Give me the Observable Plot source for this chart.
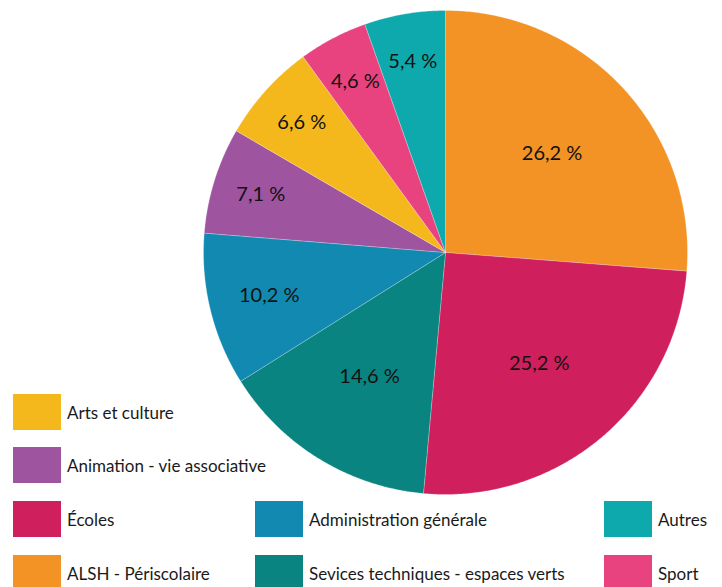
<!DOCTYPE html>
<html>
<head>
<meta charset="utf-8">
<script src="https://cdn.jsdelivr.net/npm/d3@7"></script>
<script src="https://cdn.jsdelivr.net/npm/@observablehq/plot@0.6"></script>
<style>
  html, body { margin: 0; padding: 0; background: #fff; }
  #wrap { position: relative; width: 722px; height: 587px; overflow: hidden; font-family: Lato, "Open Sans", sans-serif; }
  #wrap svg { position: absolute; left: 0; top: 0; }
  .lg { position: absolute; display: flex; align-items: center; font-size: 17px; color: #1a1a1a; white-space: nowrap; }
  .lg .sw { width: 48px; height: 36px; margin-right: 6px; flex: none; }
</style>
</head>
<body>
<div id="wrap"></div>
<script>
// Data (clockwise from 12 o'clock)
const categories = ["ALSH - Périscolaire", "Écoles", "Sevices techniques - espaces verts", "Administration générale", "Animation - vie associative", "Arts et culture", "Sport", "Autres"];
const values = [26.2, 25.2, 14.6, 10.2, 7.1, 6.6, 4.6, 5.4];
const colors = ["#F39325", "#D01F5D", "#0A8481", "#1189B0", "#9E549F", "#F5B81C", "#E8437E", "#0EA9AC"];

// Legend order (columns)
const legendCols = [
  ["Arts et culture", "Animation - vie associative", "Écoles", "ALSH - Périscolaire"],
  ["Administration générale", "Sevices techniques - espaces verts"],
  ["Autres", "Sport"]
];

const total = d3.sum(values);
const slices = [];
const labels = [];
let acc = 0;
values.forEach((v, i) => {
  const a0 = acc / total * 2 * Math.PI;
  acc += v;
  const a1 = acc / total * 2 * Math.PI;
  const pts = [{name: categories[i], x: 0, y: 0}];
  const n = Math.max(2, Math.ceil((a1 - a0) / (Math.PI / 360)));
  for (let k = 0; k <= n; k++) {
    const a = a0 + (a1 - a0) * k / n;
    pts.push({name: categories[i], x: Math.sin(a), y: Math.cos(a)});
  }
  pts.push({name: categories[i], x: 0, y: 0});
  slices.push(...pts);
  const am = (a0 + a1) / 2;
  const share = v / total;
  const lr = share > 0.14 ? 0.6 : (share > 0.09 ? 0.75 : 0.8);
  labels.push({x: lr * Math.sin(am), y: lr * Math.cos(am), text: v.toFixed(1).replace(".", ",") + " %"});
});

const chart = Plot.plot({
  width: 722,
  height: 587,
  margin: 0,
  style: {fontFamily: "Lato, 'Open Sans', sans-serif", background: "transparent"},
  x: {domain: [-1, 1], range: [203, 687], axis: null},
  y: {domain: [-1, 1], range: [494, 10], axis: null},
  color: {domain: categories, range: colors},
  marks: [
    Plot.line(slices, {x: "x", y: "y", z: "name", fill: "name", stroke: "#ffffff", strokeWidth: 0.4, strokeOpacity: 0.6, curve: "linear"}),
    Plot.text(labels, {x: "x", y: "y", text: "text", fontSize: 20, fill: "#111"})
  ]
});

const wrap = document.getElementById("wrap");
wrap.appendChild(chart);

const colLeft = [13, 255, 604];
const rowTop = [394, 447, 501, 555];
legendCols.forEach((col, ci) => {
  col.forEach((name, ri) => {
    const row = ci === 0 ? ri : ri + 2;
    const div = document.createElement("div");
    div.className = "lg";
    div.style.left = colLeft[ci] + "px";
    div.style.top = rowTop[row] + "px";
    const sw = document.createElement("span");
    sw.className = "sw";
    sw.style.background = colors[categories.indexOf(name)];
    const t = document.createElement("span");
    t.textContent = name;
    div.appendChild(sw);
    div.appendChild(t);
    wrap.appendChild(div);
  });
});
</script>
</body>
</html>
